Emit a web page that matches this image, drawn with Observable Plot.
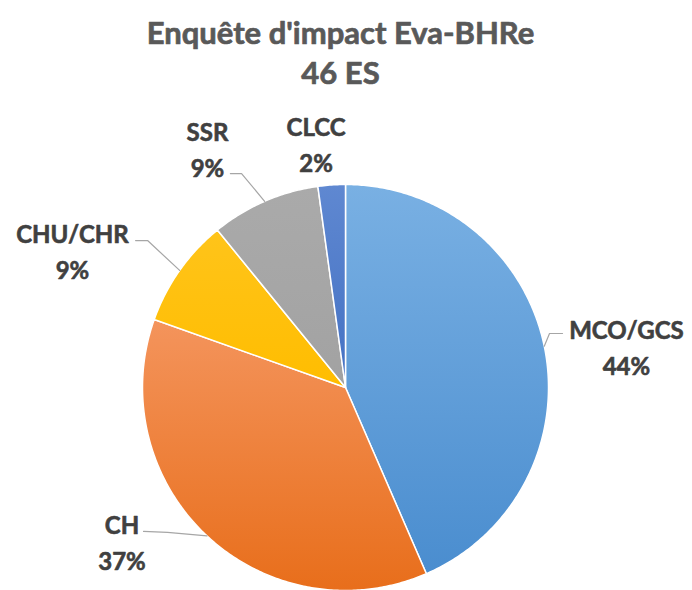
<!DOCTYPE html>
<html><head><meta charset="utf-8">
<script src="https://cdn.jsdelivr.net/npm/d3@7"></script>
<script src="https://cdn.jsdelivr.net/npm/@observablehq/plot@0.6"></script>
<style>html,body{margin:0;padding:0;background:#fff;} #chart{width:692px;height:590px;}</style>
</head><body><div id="chart"></div>
<script>
// ---- data ----
const categories = ["MCO/GCS", "CH", "CHU/CHR", "SSR", "CLCC"];
const counts = [20, 17, 4, 4, 1];
const percentLabels = ["44%", "37%", "9%", "9%", "2%"];
const titleText = "Enquête d'impact Eva-BHRe";
const subtitleText = "46 ES";

// ---- style / layout (kept apart from data) ----
const gradients = [
  ["#79b0e3", "#4a8dcf"],
  ["#f4945c", "#e86e1b"],
  ["#ffc41a", "#ffbd00"],
  ["#aaaaaa", "#a2a2a2"],
  ["#5f88d1", "#4471c3"]
];
// label centres in pie-radius units (x right, y up), relative to pie centre
const labelAt = [[1.384, 0.207], [-1.101, -0.754], [-1.345, 0.682], [-0.680, 1.180], [-0.145, 1.207]];
// leader line start + elbow (radius units); null = no leader
const leaderAt = [
  [[1.069, 0.266], [1.005, 0.266]],
  [[-0.995, -0.709], [-0.877, -0.714]],
  [[-1.034, 0.724], [-0.975, 0.724]],
  [[-0.567, 1.054], [-0.512, 1.054]],
  null
];
const W = 692, H = 590, cx = 345, cy = 387, R = 203;

// ---- geometry via d3.pie ----
const rows = categories.map((name, i) => ({name, count: counts[i], pct: percentLabels[i], i}));
const arcs = d3.pie().sort(null).value(d => d.count)(rows);
const poly = [];
arcs.forEach(a => {
  poly.push({name: a.data.name, x: 0, y: 0});
  const n = Math.max(4, Math.ceil((a.endAngle - a.startAngle) / 0.01));
  for (let k = 0; k <= n; k++) {
    const t = a.startAngle + (a.endAngle - a.startAngle) * k / n;
    poly.push({name: a.data.name, x: Math.sin(t), y: Math.cos(t)});
  }
});
const leaders = [];
arcs.forEach((a, i) => {
  const L = leaderAt[i];
  if (!L) return;
  const mid = (a.startAngle + a.endAngle) / 2;
  leaders.push({name: a.data.name, x: L[0][0], y: L[0][1]});
  leaders.push({name: a.data.name, x: L[1][0], y: L[1][1]});
  leaders.push({name: a.data.name, x: Math.sin(mid), y: Math.cos(mid)});
});
const labels = rows.map((d, i) => ({x: labelAt[i][0], y: labelAt[i][1], text: d.name + "\n" + d.pct}));

const chart = Plot.plot({
  width: W, height: H, margin: 0,
  style: {fontFamily: "Lato, 'Open Sans', sans-serif", background: "white"},
  x: {domain: [-cx / R, (W - cx) / R], range: [0, W], axis: null},
  y: {domain: [(cy - H) / R, cy / R], range: [H, 0], axis: null},
  color: {domain: categories, range: categories.map((c, i) => `url(#grad${i})`)},
  marks: [
    Plot.line(poly, {x: "x", y: "y", z: "name", fill: "name", stroke: "white", strokeWidth: 1.5, curve: "linear-closed"}),
    Plot.line(leaders, {x: "x", y: "y", z: "name", stroke: "#a6a6a6", strokeWidth: 1.2}),
    Plot.text(labels, {x: "x", y: "y", text: "text", fontSize: 24, fontWeight: 700, fill: "#404040", stroke: "#404040", strokeWidth: 0.6, lineHeight: 1.5, lineAnchor: "middle"}),
    Plot.text([titleText + "\n" + subtitleText], {frameAnchor: "top", dx: -6, dy: 15, fontSize: 31, fontWeight: 700, fill: "#595959", stroke: "#595959", strokeWidth: 0.7, lineHeight: 1.29})
  ]
});

// gradient definitions
const defs = d3.select(chart).insert("defs", ":first-child");
gradients.forEach((g, i) => {
  const lg = defs.append("linearGradient").attr("id", `grad${i}`).attr("x1", 0).attr("y1", 0).attr("x2", 0).attr("y2", 1);
  lg.append("stop").attr("offset", "0%").attr("stop-color", g[0]);
  lg.append("stop").attr("offset", "100%").attr("stop-color", g[1]);
});
document.getElementById("chart").appendChild(chart);
</script>
</body></html>
